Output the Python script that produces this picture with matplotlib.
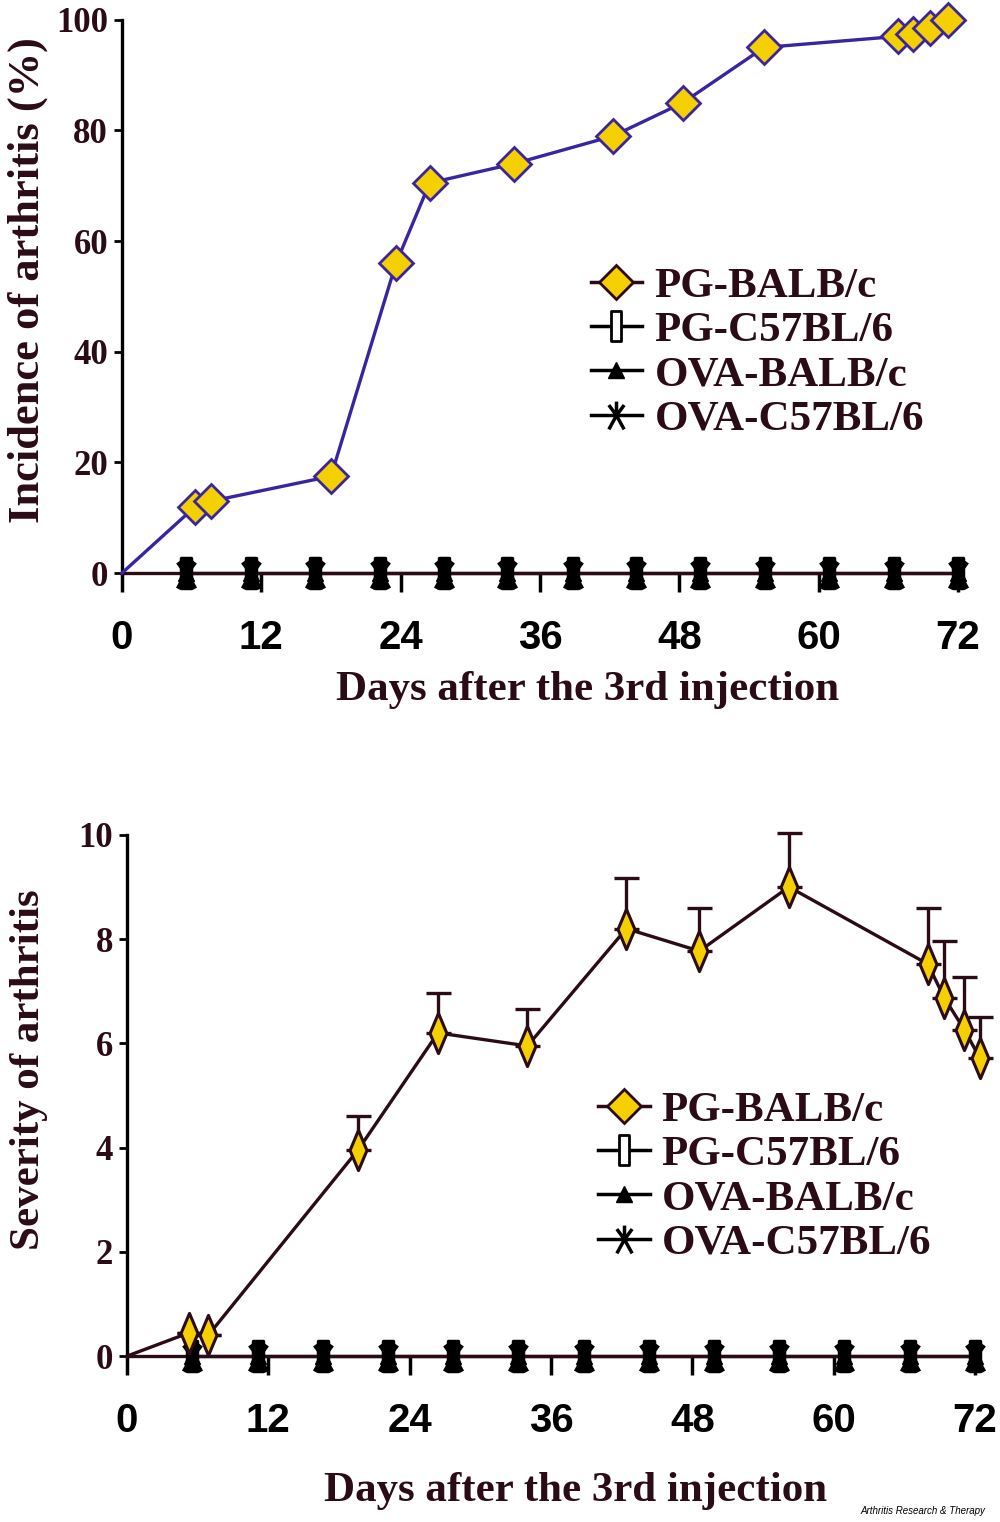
import numpy as np
import matplotlib
matplotlib.use("Agg")
import matplotlib.pyplot as plt
from matplotlib.path import Path
from matplotlib.lines import Line2D

# incidence (%) of PG-BALB/c
inc_days = [6.3, 7.7, 18.0, 23.6, 26.5, 33.8, 42.3, 48.3, 55.3, 66.8, 68.1, 69.6, 71.1]
inc_vals = [12, 13, 17.5, 56, 70.5, 74, 79, 85, 95, 97, 97.5, 98.5, 100]

# severity of PG-BALB/c
sev_days = [5.3, 6.9, 19.6, 26.4, 34.0, 42.4, 48.6, 56.2, 68.0, 69.4, 71.1, 72.4]
sev_vals = [0.45, 0.4, 3.95, 6.2, 5.95, 8.2, 7.77, 9.0, 7.52, 6.87, 6.26, 5.72]
sev_err = [0.0, 0.0, 0.65, 0.77, 0.7, 0.98, 0.83, 1.03, 1.08, 1.1, 1.01, 0.78]

# the other three groups stay at zero
zero_days = [5.5, 11.1, 16.6, 22.2, 27.7, 33.2, 38.8, 44.3, 49.8, 55.4, 60.9, 66.5, 72]
zero_vals = [0] * len(zero_days)

groups = ["PG-BALB/c", "PG-C57BL/6", "OVA-BALB/c", "OVA-C57BL/6"]
xticks = [0, 12, 24, 36, 48, 60, 72]

maroon = "#2b0c16"
purple = "#3a24a0"
yellow = "#f5d000"
serif = "Liberation Serif"
sans = "Liberation Sans"

M, L, C = Path.MOVETO, Path.LINETO, Path.CLOSEPOLY
rect = Path([(-0.3, -1), (0.3, -1), (0.3, 1), (-0.3, 1), (-0.3, -1)], [M, L, L, L, C])
star = Path([(0, 1), (0, 0), (-0.55, 0.75), (0, 0), (0.55, 0.75), (0, 0),
             (-0.55, -1), (0, 0), (0.55, -1), (0, 0)],
            [M, L, M, L, M, L, M, L, M, L])
thin = Path([(0, 1), (0.42, 0), (0, -1), (-0.42, 0), (0, 1)], [M, L, L, L, C])


def zero_groups(ax):
    # the three overlapping groups form dark blobs on the baseline
    ax.plot(zero_days, zero_vals, color=maroon, lw=2.4, marker=rect, ms=22, mfc="black",
            mec="black", mew=2.5, clip_on=False, zorder=4)
    ax.plot(zero_days, zero_vals, ls="none", marker="^", ms=11, mfc="black",
            mec="black", clip_on=False, zorder=5)
    ax.plot(zero_days, zero_vals, ls="none", marker=star, ms=22, mec="black",
            mew=3.5, clip_on=False, zorder=6)


def style(ax, ylabel, ymax, ystep, ysize, ylab_xy, xpad, xlab_x):
    for s in ["top", "right"]:
        ax.spines[s].set_visible(False)
    ax.spines["left"].set_color("black")
    ax.spines["left"].set_linewidth(2.4)
    ax.spines["bottom"].set_color(maroon)
    ax.spines["bottom"].set_linewidth(2.4)
    ax.set_xlim(0, 72)
    ax.set_ylim(0, ymax)
    ax.set_xticks(xticks)
    ax.set_yticks(np.arange(0, ymax + ystep / 2, ystep))
    ax.tick_params(axis="x", direction="out", length=14, width=2.5, pad=19, color="black")
    ax.tick_params(axis="y", direction="out", length=6, width=2, pad=4, color="black")
    for t in ax.get_xticklabels():
        t.set_fontproperties(dict(family=sans, weight="bold", size=29))
    for t in ax.get_yticklabels():
        t.set_fontproperties(dict(family=serif, weight="bold", size=25))
        t.set_color(maroon)
    ax.set_xlabel("Days after the 3rd injection", family=serif, weight="bold", size=31,
                  color=maroon, labelpad=xpad)
    ax.xaxis.label.set_x(xlab_x)
    ax.set_ylabel(ylabel, family=serif, weight="bold", size=ysize, color=maroon)
    ax.yaxis.set_label_coords(*ylab_xy)


def legend(ax, anchor):
    handles = [
        Line2D([], [], color=maroon, lw=2.5, marker="D", ms=17, mfc=yellow, mec=maroon, mew=2),
        Line2D([], [], color="black", lw=2.5, marker=rect, ms=22, mfc="white", mec="black", mew=2),
        Line2D([], [], color="black", lw=2.5, marker="^", ms=11, mfc="black", mec="black"),
        Line2D([], [], color="black", lw=2.5, marker=star, ms=20, mec="black", mew=2.5),
    ]
    leg = ax.legend(handles, groups, loc="upper left", bbox_to_anchor=anchor, frameon=False,
                    handlelength=1.2, handletextpad=0.28, labelspacing=0.12,
                    borderaxespad=0, prop=dict(family=serif, weight="bold", size=31))
    for t in leg.get_texts():
        t.set_color(maroon)


fig = plt.figure(figsize=(10, 15.22), dpi=100)

ax1 = fig.add_axes([0.122, 0.6235, 0.836, 0.3635])
zero_groups(ax1)
ax1.plot([0] + inc_days, [0] + inc_vals, color=purple, lw=2.4, zorder=7, clip_on=False)
ax1.plot(inc_days, inc_vals, ls="none", marker="D", ms=17, mfc=yellow, mec=purple, mew=2,
         zorder=8, clip_on=False)
style(ax1, "Incidence of arthritis (%)", 100, 20, 32, (-0.088, 0.53), 10, 0.557)
legend(ax1, (0.54, 0.585))

ax2 = fig.add_axes([0.127, 0.109, 0.848, 0.3425])
zero_groups(ax2)
ax2.errorbar(sev_days, sev_vals, yerr=[[0] * len(sev_err), sev_err], fmt="none",
             ecolor=maroon, elinewidth=2.4, capsize=9, capthick=2.4, zorder=6, clip_on=False)
ax2.plot([0] + sev_days, [0] + sev_vals, color=maroon, lw=2.4, zorder=7, clip_on=False)
ax2.plot(sev_days, sev_vals, ls="none", marker=thin, ms=29, mfc=yellow, mec=maroon, mew=2.2,
         zorder=8, clip_on=False)
style(ax2, "Severity of arthritis", 10, 2, 31, (-0.093, 0.55), 23, 0.529)
legend(ax2, (0.535, 0.542))

fig.text(0.985, 0.004, "Arthritis Research & Therapy", ha="right", va="bottom",
         style="italic", size=7, family=sans, color="black")

fig.savefig("out.png", dpi=100)
